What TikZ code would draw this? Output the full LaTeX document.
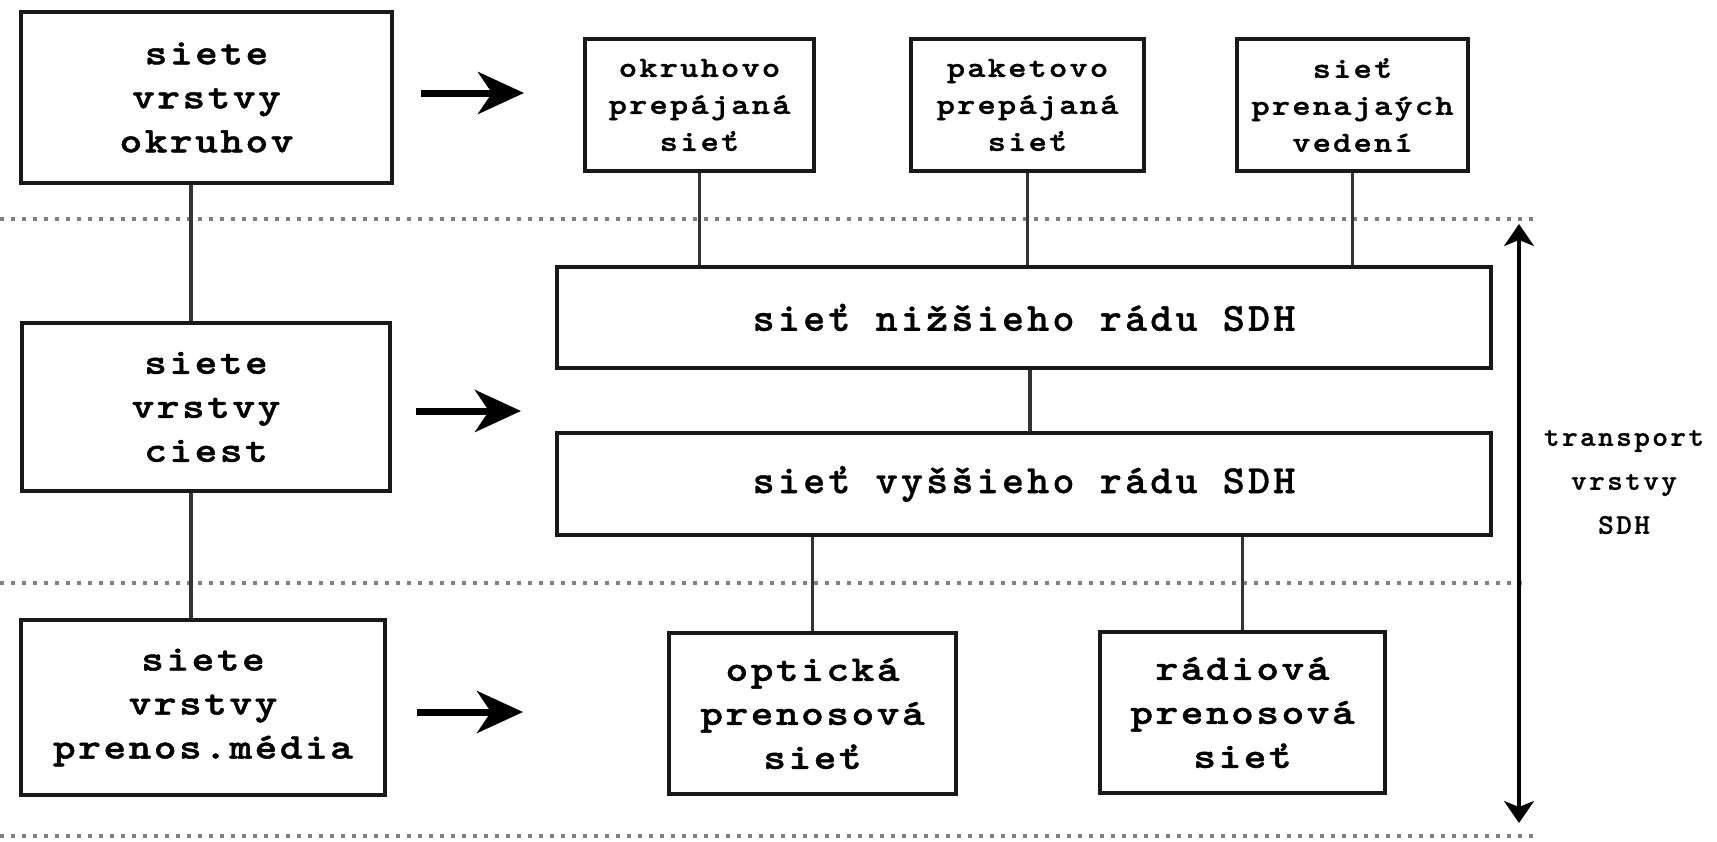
\documentclass[tikz,border=0pt]{standalone}
\usepackage{fontspec}
\usetikzlibrary{arrows.meta}
% typewriter faces: wide bold one for the boxes, narrower spaced one for the SDH labels
\newfontfamily\boxfont{lmmonolt10-bold.otf}[FakeStretch=1.2, LetterSpace=7, FakeBold=1.2]
\newfontfamily\sdhfont{lmmonolt10-bold.otf}[FakeStretch=1.05, LetterSpace=8, FakeBold=0.8]
\tikzset{
  layerbox/.style={draw=black!90, line width=1.9pt, fill=white, inner sep=0pt, align=center,
    font={\boxfont\fontsize{18pt}{22pt}\selectfont}},
  netbox/.style={layerbox, font={\boxfont\fontsize{14.6pt}{18.5pt}\selectfont}},
  sdhbox/.style={layerbox, font={\sdhfont\fontsize{20pt}{24pt}\selectfont}},
  conn/.style={draw=black!80, line width=1.6pt},
  bigarrow/.style={line width=3.5pt, -{Stealth[length=23pt, width=21pt, inset=7pt]}},
  spanarrow/.style={line width=1.6pt, {Stealth[length=11pt, width=15pt, inset=3pt]}-{Stealth[length=11pt, width=15pt, inset=3pt]}},
  sepline/.style={draw=black!50, line width=2pt, dash pattern=on 2pt off 3.5pt},
}
\begin{document}
\begin{tikzpicture}[x=0.5pt, y=-0.5pt]
\useasboundingbox (0,0) rectangle (1717,841);

% layer separators
\coordinate (s1a) at (0,219);   \coordinate (s1b) at (1535,219);
\coordinate (s2a) at (0,583);   \coordinate (s2b) at (1523,583);
\coordinate (s3a) at (0,836);   \coordinate (s3b) at (1535,836);
\draw[sepline] (s1a) -- (s1b);
\draw[sepline] (s2a) -- (s2b);
\draw[sepline] (s3a) -- (s3b);

% left column: network layers
\node[layerbox, minimum width=185.5pt, minimum height=85.5pt] (okrlayer) at (206.5,97.5) {siete\\vrstvy\\okruhov};
\node[layerbox, minimum width=184pt, minimum height=84pt] (cestlayer) at (206,407) {siete\\vrstvy\\ciest};
\node[layerbox, minimum width=182pt, minimum height=87.5pt] (medlayer) at (203,707.5) {siete\\vrstvy\\prenos.média};

% circuit layer networks
\node[netbox, minimum width=114.5pt, minimum height=66pt] (okr) at (699.5,105) {okruhovo\\prepájaná\\sieť};
\node[netbox, minimum width=116.5pt, minimum height=66pt] (pak) at (1027.5,105) {paketovo\\prepájaná\\sieť};
\node[netbox, minimum width=115.5pt, minimum height=66pt] (pren) at (1352.5,105) {sieť\\prenajaých\\vedení};

% path layer networks
\node[sdhbox, minimum width=467pt, minimum height=50.5pt] (niz) at (1024,317.5) {sieť nižšieho rádu SDH};
\node[sdhbox, minimum width=467pt, minimum height=51pt] (vys) at (1024,484) {sieť vyššieho rádu SDH};

% transmission media networks
\node[layerbox, minimum width=143.5pt, minimum height=80.5pt] (opt) at (812.5,713.5) {optická\\prenosová\\sieť};
\node[layerbox, minimum width=142.5pt, minimum height=80.5pt] (rad) at (1242.5,712.5) {rádiová\\prenosová\\sieť};

% left column links
\coordinate (lx) at (191,0);
\draw[conn] (okrlayer.south -| lx) -- (cestlayer.north -| lx);
\draw[conn] (cestlayer.south -| lx) -- (medlayer.north -| lx);

% links between the network boxes
\draw[conn] (okr.south) -- (okr.south |- niz.north);
\draw[conn] (pak.south) -- (pak.south |- niz.north);
\draw[conn] (pren.south) -- (pren.south |- niz.north);
\draw[conn] ([xshift=3pt]niz.south) -- ([xshift=3pt]vys.north);
\draw[conn] (opt.north) -- (opt.north |- vys.south);
\draw[conn] (rad.north) -- (rad.north |- vys.south);

% mapping arrows
\coordinate (a1s) at (421,93);  \coordinate (a1e) at (524,93);
\coordinate (a2s) at (416,411); \coordinate (a2e) at (521,411);
\coordinate (a3s) at (417,712); \coordinate (a3e) at (523,712);
\draw[bigarrow] (a1s) -- (a1e);
\draw[bigarrow] (a2s) -- (a2e);
\draw[bigarrow] (a3s) -- (a3e);

% extent of the SDH transport layers
\coordinate (spantop) at (1519,224);
\coordinate (spanbot) at (1519,823);
\draw[spanarrow] (spantop) -- (spanbot);
\node[align=center, inner sep=0pt, font={\sdhfont\fontsize{14.3pt}{22pt}\selectfont}] (sdhlabel) at (1624,482) {transport\\vrstvy\\SDH};
\end{tikzpicture}
\end{document}
